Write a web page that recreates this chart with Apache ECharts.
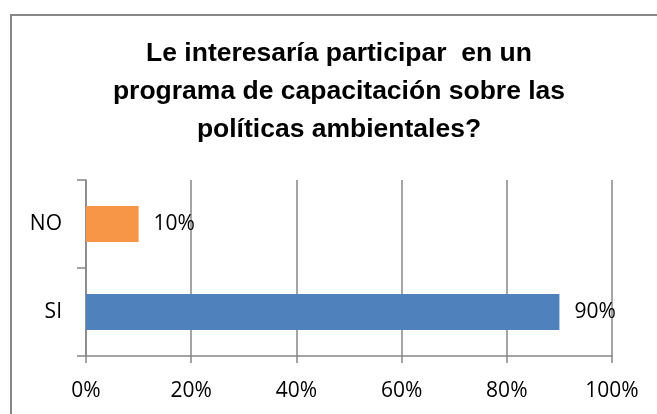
<!DOCTYPE html>
<html>
<head>
<meta charset="utf-8">
<script src="https://cdn.jsdelivr.net/npm/echarts@6/dist/echarts.min.js"></script>
<style>
  html, body { margin: 0; padding: 0; background: #fff; overflow: hidden; }
  #chart { width: 657px; height: 414px; position: relative; }
  /* marco del gráfico (solo se ven los bordes izquierdo y superior) */
  .frame {
    position: absolute;
    left: 10px; top: 14px; width: 660px; height: 420px;
    border: 2px solid #878787;
    box-sizing: border-box;
    pointer-events: none;
  }
</style>
</head>
<body>
<div id="chart"></div>
<div class="frame"></div>
<script>
  // datos
  const categorias = ["SI", "NO"];
  const valores = [0.9, 0.1];
  const colores = ["#4f81bd", "#f79646"];
  const titulo = "Le interesaría participar  en un\nprograma de capacitación sobre las\npolíticas ambientales?";

  const fuente = "'Open Sans', 'Noto Sans', 'DejaVu Sans', sans-serif";

  const myChart = echarts.init(document.getElementById("chart"));
  const option = {
    animation: false,
    title: {
      text: titulo,
      left: 339,
      top: 35,
      padding: 0,
      textAlign: "center",
      textStyle: {
        fontFamily: "'Liberation Sans Narrow', 'Liberation Sans', Arial",
        fontSize: 26.5,
        fontWeight: "bold",
        lineHeight: 38,
        color: "#000",
      },
    },
    grid: { left: 86, right: 45, top: 180, bottom: 58 },
    xAxis: {
      type: "value",
      min: 0,
      max: 1,
      interval: 0.2,
      axisLine: { show: true, lineStyle: { color: "#878787", width: 1.5 } },
      axisTick: { show: true, length: 7, lineStyle: { color: "#878787", width: 1.5 } },
      splitLine: { show: true, lineStyle: { color: "#878787", width: 1.5 } },
      axisLabel: {
        margin: 25,
        fontSize: 21,
        color: "#000",
        fontFamily: fuente,
        formatter: (v) => Math.round(v * 100) + "%",
      },
    },
    yAxis: {
      type: "category",
      data: categorias,
      axisLine: { show: true, lineStyle: { color: "#878787", width: 1.5 } },
      axisTick: { show: true, length: 9, lineStyle: { color: "#878787", width: 1.5 } },
      axisLabel: {
        margin: 24,
        fontSize: 21,
        color: "#000",
        fontFamily: fuente,
      },
    },
    series: [
      {
        type: "bar",
        barWidth: 36,
        data: valores.map((v, i) => ({ value: v, itemStyle: { color: colores[i] } })),
        label: {
          show: true,
          position: "right",
          distance: 15,
          fontSize: 21,
          color: "#000",
          fontFamily: fuente,
          formatter: (p) => Math.round(p.value * 100) + "%",
        },
      },
    ],
  };
  myChart.setOption(option, true);
</script>
</body>
</html>
